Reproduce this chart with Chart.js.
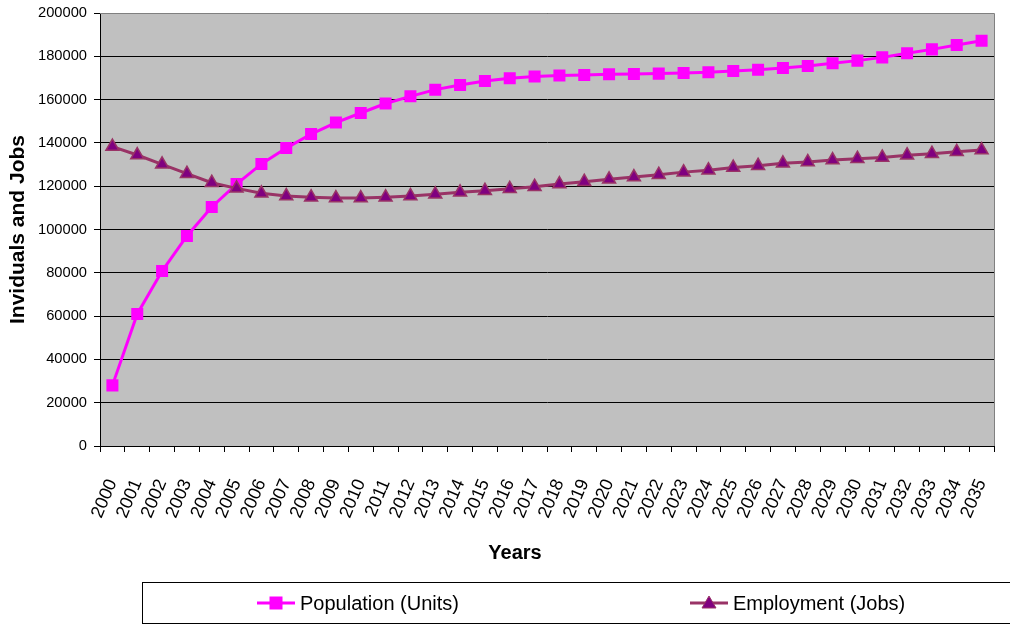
<!DOCTYPE html>
<html>
<head>
<meta charset="utf-8">
<title>Population and Employment</title>
<script src="https://cdn.jsdelivr.net/npm/chart.js@4.4.0/dist/chart.umd.min.js"></script>
<style>
  html, body { margin: 0; padding: 0; background: #fff; }
  #wrap { width: 1010px; height: 625px; }
</style>
</head>
<body>
<div id="wrap"><canvas id="lineChart" width="1010" height="625"></canvas></div>
<script>
// categories (x axis)
var years = [
  "2000", "2001", "2002", "2003", "2004", "2005", "2006", "2007", "2008",
  "2009", "2010", "2011", "2012", "2013", "2014", "2015", "2016", "2017",
  "2018", "2019", "2020", "2021", "2022", "2023", "2024", "2025", "2026",
  "2027", "2028", "2029", "2030", "2031", "2032", "2033", "2034", "2035",
];

// series
var population = [
  28000, 61000, 80800, 97000, 110400, 121000, 130300, 137600, 144100,
  149400, 153800, 158200, 161500, 164600, 166700, 168600, 169900, 170700,
  171100, 171400, 171700, 171800, 172000, 172300, 172600, 173200, 173800,
  174600, 175500, 176800, 178000, 179500, 181400, 183200, 185200, 187200,
];
var employment = [
  138300, 134400, 130100, 125800, 121600, 119000, 116700, 115500, 114900,
  114500, 114500, 114900, 115500, 116300, 117200, 117900, 118800, 119800,
  121000, 122100, 123200, 124200, 125300, 126500, 127400, 128600, 129500,
  130600, 131200, 132100, 132700, 133300, 134300, 135000, 135900, 136700,
];

var seriesNames = ["Population (Units)", "Employment (Jobs)"];
var yTitle = "Inviduals and Jobs";
var xTitle = "Years";

var FONT = '"Liberation Sans", Arial, sans-serif';

// grey plot area + grey frame on top/right
var plotFrame = {
  id: "plotFrame",
  beforeDraw: function (chart) {
    var a = chart.chartArea;
    var ctx = chart.ctx;
    ctx.save();
    ctx.fillStyle = "#C0C0C0";
    ctx.fillRect(a.left, a.top, a.right - a.left, a.bottom - a.top);
    ctx.restore();
  },
  beforeDatasetsDraw: function (chart) {
    var a = chart.chartArea;
    var ctx = chart.ctx;
    ctx.save();
    ctx.strokeStyle = "#808080";
    ctx.lineWidth = 1;
    ctx.beginPath();
    ctx.moveTo(a.left, Math.round(a.top) + 0.5);
    ctx.lineTo(Math.round(a.right) + 0.5, Math.round(a.top) + 0.5);
    ctx.lineTo(Math.round(a.right) + 0.5, a.bottom);
    ctx.stroke();
    ctx.restore();
  },
};

// boxed legend at the bottom + x axis title
var boxLegend = {
  id: "boxLegend",
  afterDraw: function (chart) {
    var ctx = chart.ctx;
    var W = chart.width;
    ctx.save();

    // x axis title
    ctx.fillStyle = "#000";
    ctx.font = "bold 20px " + FONT;
    ctx.textAlign = "center";
    ctx.textBaseline = "middle";
    ctx.fillText(xTitle, 515, 553);

    // legend frame
    ctx.strokeStyle = "#000";
    ctx.lineWidth = 1;
    ctx.strokeRect(142.5, 582.5, W, 41);

    var cy = 603;
    var items = [257, 690];
    chart.data.datasets.forEach(function (ds, i) {
      var x0 = items[i];
      ctx.strokeStyle = ds.borderColor;
      ctx.lineWidth = 3;
      ctx.beginPath();
      ctx.moveTo(x0, cy);
      ctx.lineTo(x0 + 38, cy);
      ctx.stroke();

      var mx = x0 + 19;
      ctx.fillStyle = ds.pointBackgroundColor;
      ctx.strokeStyle = ds.pointBorderColor;
      ctx.lineWidth = 1;
      if (ds.pointStyle === "rect") {
        ctx.fillRect(mx - 6.5, cy - 6.5, 13, 13);
      } else {
        ctx.beginPath();
        ctx.moveTo(mx, cy - 7);
        ctx.lineTo(mx + 7, cy + 5);
        ctx.lineTo(mx - 7, cy + 5);
        ctx.closePath();
        ctx.fill();
        ctx.stroke();
      }

      ctx.fillStyle = "#000";
      ctx.font = "20px " + FONT;
      ctx.textAlign = "left";
      ctx.textBaseline = "middle";
      ctx.fillText(ds.label, x0 + 43, cy + 1);
    });

    ctx.restore();
  },
};

var ctx = document.getElementById("lineChart").getContext("2d");
var lineChart = new Chart(ctx, {
  type: "line",
  data: {
    labels: years,
    datasets: [
      {
        label: seriesNames[0],
        data: population,
        order: 1,
        borderColor: "#FF00FF",
        borderWidth: 3,
        pointStyle: "rect",
        pointRadius: 8.5,
        pointBackgroundColor: "#FF00FF",
        pointBorderColor: "#FF00FF",
        pointBorderWidth: 0,
        tension: 0,
      },
      {
        label: seriesNames[1],
        data: employment,
        order: 0,
        borderColor: "#993366",
        borderWidth: 3,
        pointStyle: "triangle",
        pointRadius: 7.5,
        pointBackgroundColor: "#800080",
        pointBorderColor: "#993366",
        pointBorderWidth: 1.5,
        tension: 0,
      },
    ],
  },
  options: {
    responsive: false,
    animation: false,
    devicePixelRatio: 1,
    layout: {
      padding: { left: 0, top: 13, right: 16, bottom: 55 },
    },
    plugins: {
      legend: { display: false },
      tooltip: { enabled: false },
    },
    scales: {
      x: {
        offset: true,
        grid: {
          offset: true,
          drawOnChartArea: false,
          tickLength: 6,
          color: "#000",
        },
        border: { color: "#000", width: 1 },
        ticks: {
          autoSkip: false,
          minRotation: 67,
          maxRotation: 67,
          padding: 24,
          color: "#000",
          font: { family: FONT, size: 18 },
        },
        afterFit: function (scale) {
          scale.height = 124;
          scale.paddingLeft = 0;
          scale.paddingRight = 0;
        },
      },
      y: {
        min: 0,
        max: 200000,
        grid: {
          color: "#000",
          lineWidth: 1,
          tickLength: 6,
        },
        border: { color: "#000", width: 1 },
        ticks: {
          stepSize: 20000,
          padding: 7,
          color: "#000",
          font: { family: FONT, size: 14.7 },
          callback: function (v) {
            return String(v);
          },
        },
        title: {
          display: true,
          text: yTitle,
          color: "#000",
          font: { family: FONT, size: 21, weight: "bold" },
          padding: { top: 6, bottom: 0 },
        },
        afterFit: function (scale) {
          scale.width = 100;
          scale.paddingTop = 0;
          scale.paddingBottom = 0;
        },
      },
    },
  },
  plugins: [plotFrame, boxLegend],
});
</script>
</body>
</html>
